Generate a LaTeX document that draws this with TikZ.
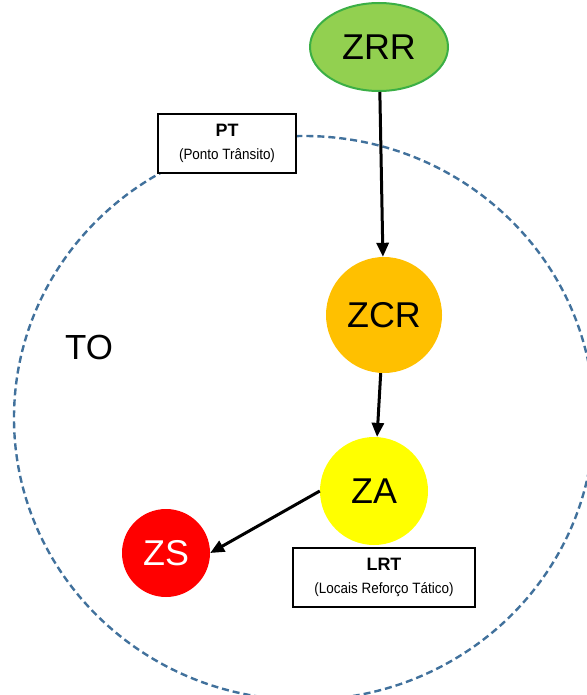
\documentclass[tikz,border=0pt]{standalone}
\usepackage{fontspec}
\setmainfont{Liberation Sans}
\newfontfamily\narrowfont[FakeStretch=0.9]{Liberation Sans}
\usetikzlibrary{arrows.meta,shapes.geometric}
\definecolor{zrrfill}{HTML}{92D050}
\definecolor{zrrline}{HTML}{3BAF45}
\definecolor{zcrfill}{HTML}{FFC000}
\definecolor{zafill}{HTML}{FFFF00}
\definecolor{zsfill}{HTML}{FF0000}
\definecolor{toline}{HTML}{41719C}
\begin{document}
\begin{tikzpicture}[x=1bp,y=-1bp,
  zone/.style={circle, inner sep=0pt, font=\fontsize{36}{36}\selectfont},
  infobox/.style={draw=black, line width=2bp, fill=white, minimum height=59bp,
    align=center, inner sep=0pt, font=\narrowfont\fontsize{15}{23}\selectfont},
  flow/.style={-{Triangle[length=14bp,width=12bp]}, line width=3bp, black}]
\useasboundingbox (0,0) rectangle (587,695);
% dashed operating area
\draw[toline, dash pattern=on 7bp off 4bp, line width=2.4bp]
  (304,418) ellipse [x radius=290bp, y radius=282bp];
% zones
\node[ellipse, draw=zrrline, line width=2bp, fill=zrrfill, minimum width=138bp,
  minimum height=88bp, inner sep=0pt, font=\fontsize{36}{36}\selectfont] (zrr) at (379,47) {ZRR};
\node[zone, fill=zcrfill, minimum size=116bp] (zcr) at (384,315) {ZCR};
\node[zone, fill=zafill, minimum size=108bp] (za) at (374,491) {ZA};
\node[zone, fill=zsfill, minimum size=88bp, text=white] (zs) at (166,553) {ZS};
\node[font=\fontsize{35}{35}\selectfont] (to) at (89,347) {TO};
% info boxes
\node[infobox, minimum width=138bp] (pt) at (227,143.5)
  {{\fontspec{Liberation Sans}\bfseries\fontsize{18}{23}\selectfont PT}\\(Ponto Trânsito)};
\node[infobox, minimum width=182bp] (lrt) at (384,577.5)
  {{\fontspec{Liberation Sans}\bfseries\fontsize{18}{23}\selectfont LRT}\\(Locais Reforço Tático)};
% connectors
\draw[flow] (zrr) -- (zcr);
\draw[flow] (zcr) -- (za);
\draw[flow] (za.west) -- (zs.east);
\end{tikzpicture}
\end{document}
